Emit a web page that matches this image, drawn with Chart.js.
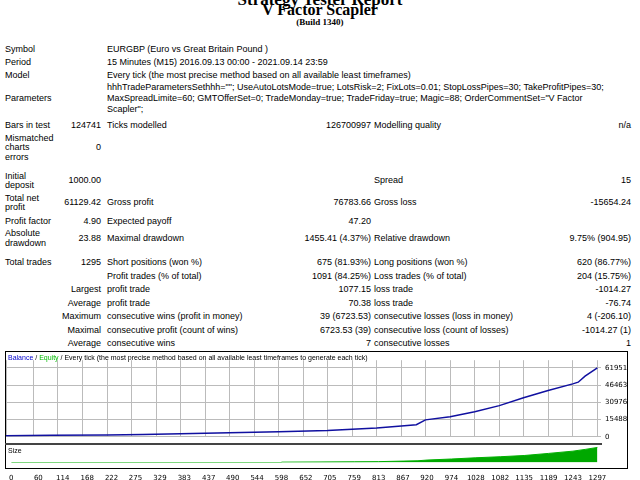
<!DOCTYPE html>
<html><head><meta charset="utf-8">
<script src="https://cdn.jsdelivr.net/npm/chart.js@4"></script>
<style>
body{margin:0;width:640px;height:480px;background:#fff;overflow:hidden;position:relative;font-family:"Liberation Sans",Arial,sans-serif;font-size:9px;color:#000}
.t{position:absolute;white-space:nowrap;line-height:10px}
.r{text-align:right}
#box{position:absolute;left:5px;top:351px;width:623px;height:118px;border:1px solid #000;box-sizing:border-box}
#sep{position:absolute;left:5px;top:443px;width:597px;height:2px;background:#444}
</style></head><body>
<div class="t" style="left:0;width:640px;text-align:center;top:-10px;font:bold 17px 'Liberation Serif',serif">Strategy Tester Report</div>
<div class="t" style="left:0;width:640px;text-align:center;top:1px;font:bold 16px 'Liberation Serif',serif;line-height:18px">V Factor Scapler</div>
<div class="t" style="left:0;width:640px;text-align:center;top:17px;font:bold 9px 'Liberation Serif',serif">(Build 1340)</div>
<div id="txt"></div>
<div id="box"></div>
<div style="position:absolute;left:6px;top:352px;width:622px;height:93px"><canvas id="bal"></canvas></div>
<div style="position:absolute;left:6px;top:445px;width:622px;height:35px"><canvas id="size"></canvas></div>
<div id="sep"></div>
<div class="t" style="left:8px;top:353px;font-size:7px;line-height:9px"><span style="color:#00c">Balance</span> / <span style="color:#0b0">Equity</span> / Every tick (the most precise method based on all available least timeframes to generate each tick)</div>
<div class="t" style="left:8px;top:446px;font-size:7px;line-height:9px">Size</div>
<script>
// trade number -> balance
const tradeNo = [0, 100, 222, 300, 383, 490, 598, 705, 813, 867, 900, 920, 974, 1028, 1082, 1135, 1189, 1243, 1255, 1270, 1297];
const balance = [1000, 1300, 1600, 2100, 2700, 3600, 4600, 5600, 8000, 9800, 10800, 15200, 18000, 22500, 28000, 35000, 41500, 47500, 49000, 54500, 61951];
const sizeTradeNo = [0, 597, 598, 760, 813, 867, 900, 920, 974, 1028, 1082, 1135, 1189, 1243, 1270, 1297];
const sizeLots = [0, 0, 0.02, 0.04, 0.05, 0.08, 0.1, 0.14, 0.2, 0.27, 0.33, 0.4, 0.52, 0.65, 0.75, 0.86];
const xTicks = [0, 60, 114, 168, 222, 275, 329, 383, 437, 490, 544, 598, 652, 705, 759, 813, 867, 920, 974, 1028, 1082, 1135, 1189, 1243, 1297];
const yTicks = [0, 15488, 30976, 46463, 61951];

const T = (x, y, s, right, w) => `<div class="t${right ? " r" : ""}" style="${right ? `left:${x - (w || 200)}px;width:${w || 200}px` : `left:${x}px`};top:${y - 5}px">${s}</div>`;
let h = "";
h += T(5, 49, "Symbol") + T(107, 49, "EURGBP (Euro vs Great Britain Pound )");
h += T(5, 62, "Period") + T(107, 62, "15 Minutes (M15) 2016.09.13 00:00 - 2021.09.14 23:59");
h += T(5, 75, "Model") + T(107, 75, "Every tick (the most precise method based on all available least timeframes)");
h += T(5, 98, "Parameters");
h += T(107, 87, 'hhhTradeParametersSethhh=""; UseAutoLotsMode=true; LotsRisk=2; FixLots=0.01; StopLossPipes=30; TakeProfitPipes=30;');
h += T(107, 98, 'MaxSpreadLimite=60; GMTOfferSet=0; TradeMonday=true; TradeFriday=true; Magic=88; OrderCommentSet="V Factor');
h += T(107, 109, 'Scapler";');
h += T(5, 125, "Bars in test") + T(101, 125, "124741", 1) + T(107, 125, "Ticks modelled") + T(371, 125, "126700997", 1) + T(374, 125, "Modelling quality") + T(631, 125, "n/a", 1);
h += T(5, 138, "Mismatched") + T(5, 147, "charts") + T(5, 157, "errors") + T(101, 147, "0", 1);
h += T(5, 176, "Initial") + T(5, 185, "deposit") + T(101, 180, "1000.00", 1) + T(374, 180, "Spread") + T(631, 180, "15", 1);
h += T(5, 198, "Total net") + T(5, 207, "profit") + T(101, 202, "61129.42", 1) + T(107, 202, "Gross profit") + T(371, 202, "76783.66", 1) + T(374, 202, "Gross loss") + T(631, 202, "-15654.24", 1);
h += T(5, 221, "Profit factor") + T(101, 221, "4.90", 1) + T(107, 221, "Expected payoff") + T(371, 221, "47.20", 1);
h += T(5, 233, "Absolute") + T(5, 243, "drawdown") + T(101, 238, "23.88", 1) + T(107, 238, "Maximal drawdown") + T(371, 238, "1455.41 (4.37%)", 1) + T(374, 238, "Relative drawdown") + T(631, 238, "9.75% (904.95)", 1);
const st = [
  [262, "Total trades", "1295", "Short positions (won %)", "675 (81.93%)", "Long positions (won %)", "620 (86.77%)", 0],
  [276, "", "", "Profit trades (% of total)", "1091 (84.25%)", "Loss trades (% of total)", "204 (15.75%)", 0],
  [289, "Largest", "", "profit trade", "1077.15", "loss trade", "-1014.27", 1],
  [303, "Average", "", "profit trade", "70.38", "loss trade", "-76.74", 1],
  [316, "Maximum", "", "consecutive wins (profit in money)", "39 (6723.53)", "consecutive losses (loss in money)", "4 (-206.10)", 1],
  [330, "Maximal", "", "consecutive profit (count of wins)", "6723.53 (39)", "consecutive loss (count of losses)", "-1014.27 (1)", 1],
  [343, "Average", "", "consecutive wins", "7", "consecutive losses", "1", 1],
];
st.forEach(r => {
  h += r[7] ? T(101, r[0], r[1], 1) : T(5, r[0], r[1]);
  h += T(101, r[0], r[2], 1) + T(107, r[0], r[3]) + T(371, r[0], r[4], 1) + T(374, r[0], r[5]) + T(631, r[0], r[6], 1);
});
document.getElementById("txt").innerHTML = h;

const font = { family: "Tahoma, 'DejaVu Sans', sans-serif", size: 7 };
const grid = { color: "#bbb", borderDash: [2, 2], drawTicks: false };
const fixY = s => { s.width = 27; };
const xAxis = (show) => ({
  type: "linear", min: 0, max: 1305,
  afterBuildTicks: s => { s.ticks = xTicks.map(v => ({ value: v })); },
  ticks: { display: show, font, color: "#000", autoSkip: false, maxRotation: 0, padding: 3, callback: v => String(v) },
  grid: show ? { display: false } : grid, border: { display: false }
});

new Chart(document.getElementById("bal"), {
  type: "line",
  data: { datasets: [{ data: tradeNo.map((x, i) => ({ x, y: balance[i] })), borderColor: "#1010a0", borderWidth: 1.5, pointRadius: 0, tension: 0 }] },
  options: {
    responsive: true, maintainAspectRatio: false, animation: false,
    plugins: { legend: { display: false }, tooltip: { enabled: false } },
    scales: {
      x: xAxis(false),
      y: {
        position: "right", min: 0, max: 68750, afterFit: fixY,
        afterBuildTicks: s => { s.ticks = yTicks.map(v => ({ value: v })); },
        ticks: { font, color: "#000", padding: 4, callback: v => String(v) }, grid, border: { display: false }
      }
    }
  }
});

new Chart(document.getElementById("size"), {
  type: "line",
  data: { datasets: [{ data: sizeTradeNo.map((x, i) => ({ x, y: sizeLots[i] })), borderColor: "#00b000", backgroundColor: "#00a800", borderWidth: 1, fill: true, pointRadius: 0 }] },
  options: {
    responsive: true, maintainAspectRatio: false, animation: false,
    plugins: { legend: { display: false }, tooltip: { enabled: false } },
    scales: {
      x: xAxis(true),
      y: { position: "right", min: 0, max: 1, afterFit: fixY, ticks: { display: false }, grid: { display: false }, border: { display: false } }
    }
  }
});
</script>
</body></html>
